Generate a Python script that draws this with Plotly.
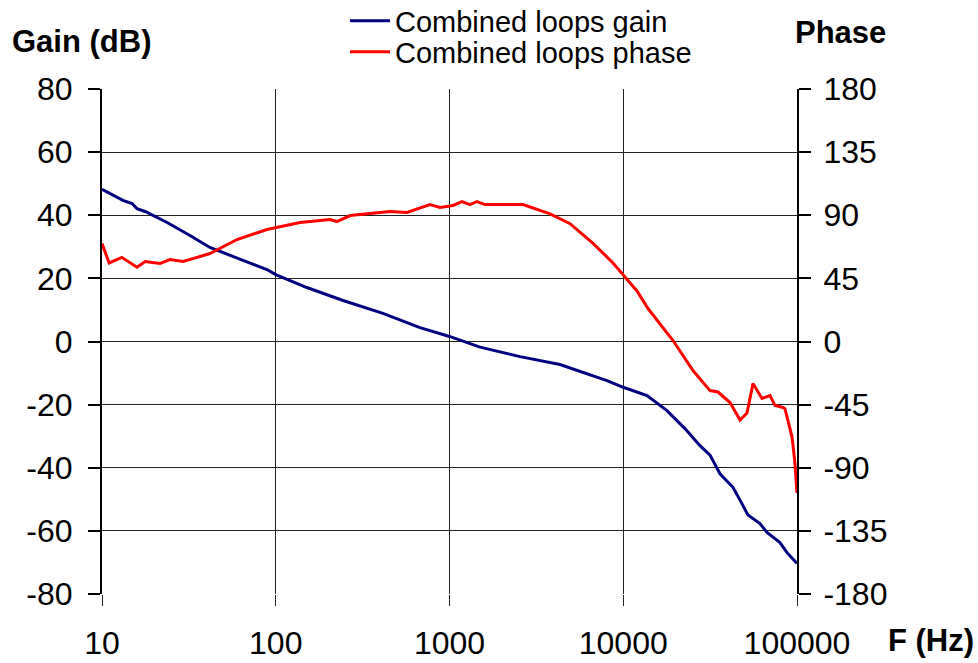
import plotly.graph_objects as go

# Loop response: gain (dB) and phase (deg) versus frequency (Hz)
gain_freq = [10, 13.2, 14.9, 15.9, 17.7, 23.7, 32.1, 41.8, 64.8, 89, 100, 151, 244, 414,
             676, 1000, 1498, 2546, 4325, 5866, 8063, 10000, 13700, 17850, 22650, 27650,
             31580, 36040, 42800, 48900, 52200, 61200, 67200, 79800, 87600, 100000]
gain_db = [48.2, 44.7, 43.7, 42.1, 41.2, 37.7, 33.6, 29.8, 25.7, 22.8, 21.2, 17.1, 13.0, 8.9,
           4.4, 1.6, -1.8, -4.8, -7.3, -9.7, -12.4, -14.5, -17.1, -21.9, -27.6, -33.0,
           -36.0, -41.9, -46.2, -52.0, -55.0, -57.7, -60.5, -63.7, -66.9, -70.3]

phase_freq = [10, 11, 13, 15.9, 17.7, 21.6, 24.6, 29.3, 41.8, 59.8, 89, 138, 205, 225, 268,
              455, 569, 772, 882, 1047, 1180, 1312, 1440, 1600, 2650, 3790, 4940, 6700,
              8730, 10240, 12000, 13880, 19340, 25200, 31580, 35100, 41170, 47000, 51540,
              55800, 62900, 69900, 74700, 83100, 85300, 93600, 97000, 100000]
phase_deg = [69.8, 56, 60, 53, 57, 55.6, 58.4, 57, 62.7, 72.7, 79.8, 84.8, 87, 85.5, 89.8,
             92.7, 92, 97.6, 95.5, 97, 99.8, 97.6, 99.8, 97.6, 97.6, 91, 84, 70,
             56, 45.6, 36, 23.5, 0.7, -20.7, -35, -36, -43.5, -56, -51,
             -30, -40.6, -38.5, -45.6, -47, -48, -68, -85, -108]

x_tickvals = [10, 100, 1000, 10000, 100000]
x_ticktext = ["10", "100", "1000", "10000", "100000"]
gain_ticks = [-80, -60, -40, -20, 0, 20, 40, 60, 80]
gain_ticktext = ["-80", "-60", "-40", "-20", "0", "20", "40", "60", "80"]
phase_ticks = [-180, -135, -90, -45, 0, 45, 90, 135, 180]
phase_ticktext = ["-180", "-135", "-90", "-45", "0", "45", "90", "135", "180"]

FONT = "Arial, Liberation Sans, sans-serif"

fig = go.Figure()
fig.add_trace(go.Scatter(x=gain_freq, y=gain_db, mode="lines", name="Combined loops gain",
                         line=dict(color="#000080", width=3), yaxis="y", legend="legend"))
fig.add_trace(go.Scatter(x=phase_freq, y=phase_deg, mode="lines", name="Combined loops phase",
                         line=dict(color="#ff0000", width=3), yaxis="y2", legend="legend2"))

legend_common = dict(xanchor="left", yanchor="middle", font=dict(size=29),
                     bgcolor="rgba(0,0,0,0)", itemwidth=40)

fig.update_layout(
    width=978, height=663,
    margin=dict(l=102, r=181, t=89, b=69, autoexpand=False),
    paper_bgcolor="white", plot_bgcolor="white",
    font=dict(family=FONT, size=32, color="black"),
    showlegend=True,
    legend=dict(x=0.3496, y=(594 - 21) / 505, **legend_common),
    legend2=dict(x=0.3496, y=(594 - 52) / 505, **legend_common),
    xaxis=dict(type="log", range=[1, 5], tickvals=x_tickvals, ticktext=x_ticktext,
               showgrid=True, gridcolor="#222", gridwidth=1,
               ticks="outside", ticklen=11, tickcolor="#222", tickwidth=1,
               showline=False, zeroline=False, ticklabelstandoff=10),
    yaxis=dict(range=[-80, 80], tickvals=gain_ticks, ticktext=gain_ticktext,
               showgrid=True, gridcolor="#222", gridwidth=1,
               ticks="outside", ticklen=12, tickcolor="black", tickwidth=2,
               showline=True, linecolor="black", linewidth=2, zeroline=False,
               ticklabelstandoff=9),
    yaxis2=dict(range=[-180, 180], tickvals=phase_ticks, ticktext=phase_ticktext,
                overlaying="y", side="right",
                showgrid=False, ticks="outside", ticklen=12, tickcolor="black", tickwidth=2,
                showline=True, linecolor="black", linewidth=2, zeroline=False,
                ticklabelstandoff=6),
)

fig.add_annotation(text="<b>Gain (dB)</b>", xref="paper", yref="paper", x=(10 - 102) / 695,
                   y=(594 - 42) / 505, xanchor="left", yanchor="middle", showarrow=False,
                   font=dict(size=31))
fig.add_annotation(text="<b>Phase</b>", xref="paper", yref="paper", x=(793 - 102) / 695,
                   y=(594 - 33) / 505, xanchor="left", yanchor="middle", showarrow=False,
                   font=dict(size=31))
fig.add_annotation(text="<b>F (Hz)</b>", xref="paper", yref="paper", x=(886 - 102) / 695,
                   y=-(640 - 594) / 505, xanchor="left", yanchor="middle", showarrow=False,
                   font=dict(size=31))

fig.write_html("out.html")
